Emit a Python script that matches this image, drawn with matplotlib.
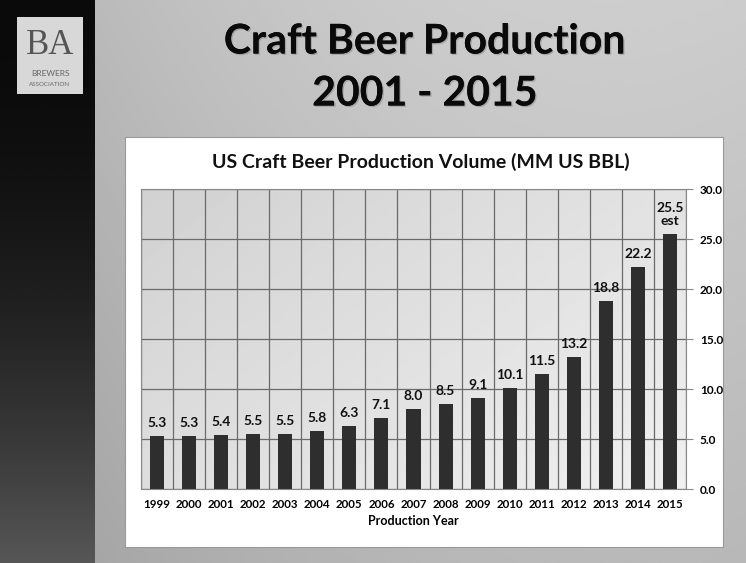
import matplotlib
matplotlib.use("Agg")
import matplotlib.pyplot as plt
import matplotlib.patches as patches
import matplotlib.patheffects as pe
import numpy as np

plt.rcParams['font.family'] = ['Lato', 'DejaVu Sans']

# data
years = ["1999", "2000", "2001", "2002", "2003", "2004", "2005", "2006", "2007",
         "2008", "2009", "2010", "2011", "2012", "2013", "2014", "2015"]
volume = [5.3, 5.3, 5.4, 5.5, 5.5, 5.8, 6.3, 7.1, 8.0, 8.5, 9.1, 10.1, 11.5,
          13.2, 18.8, 22.2, 25.5]
labels = ["5.3", "5.3", "5.4", "5.5", "5.5", "5.8", "6.3", "7.1", "8.0", "8.5",
          "9.1", "10.1", "11.5", "13.2", "18.8", "22.2", "25.5\nest"]
yticks = [0, 5, 10, 15, 20, 25, 30]

W, H = 746, 563
fig = plt.figure(figsize=(W / 100, H / 100), dpi=100)

# slide background
bg = fig.add_axes([0, 0, 1, 1], zorder=0)
bg.set_xlim(0, W)
bg.set_ylim(H, 0)
bg.axis("off")
xx, yy = np.meshgrid(np.linspace(0, 1, 200), np.linspace(0, 1, 200))
grad = 0.68 + 0.08 * (1 - yy) + 0.07 * xx - 0.12 * (xx - 0.5) ** 2
bg.imshow(grad, cmap="gray", vmin=0, vmax=1, extent=[95, W, H, 0], aspect="auto")
strip = 0.04 + 0.3 * yy[:, :20] ** 2
bg.imshow(strip, cmap="gray", vmin=0, vmax=1, extent=[0, 95, H, 0], aspect="auto")

# logo
bg.add_patch(patches.Rectangle((17, 17), 66, 77, facecolor="#d8d8d8", edgecolor="none"))
bg.text(50, 46, "BA", fontsize=25, family="Liberation Serif", color="#555555",
        ha="center", va="center")
bg.text(50, 74, "BREWERS", fontsize=6, color="#666666", ha="center", va="center")
bg.text(50, 84, "ASSOCIATION", fontsize=4.5, color="#666666", ha="center", va="center")

# slide title, soft shadow
shadow = [pe.withSimplePatchShadow(offset=(1, -1), shadow_rgbFace="#666666", alpha=0.35),
          pe.Normal()]
bg.text(425, 42, "Craft Beer Production", fontsize=29.5, fontweight="bold",
        color="#0a0a0a", ha="center", va="center", path_effects=shadow)
bg.text(425, 94, "2001 - 2015", fontsize=29.5, fontweight="bold",
        color="#0a0a0a", ha="center", va="center", path_effects=shadow)

# white chart box
bg.add_patch(patches.Rectangle((125, 137), 598, 410, facecolor="white",
                               edgecolor="#999999", linewidth=0.8))
bg.text(421, 162, "US Craft Beer Production Volume (MM US BBL)", fontsize=14,
        fontweight="bold", color="#111111", ha="center", va="center")

# plot area
x0, x1, ytop, ybot = 141, 686, 189, 489
ax = fig.add_axes([x0 / W, 1 - ybot / H, (x1 - x0) / W, (ybot - ytop) / H], zorder=1)
x = np.arange(len(years))
ax.set_xlim(-0.5, len(years) - 0.5)
ax.set_ylim(0, 30)

fill = 0.82 + 0.07 * xx + 0.05 * yy
ax.imshow(fill, cmap="gray", vmin=0, vmax=1, extent=[-0.5, len(years) - 0.5, 0, 30],
          aspect="auto", zorder=0)

for b in np.arange(-0.5, len(years) + 0.5, 1):
    ax.axvline(b, color="#6a6a6a", linewidth=0.9, zorder=1)
for t in yticks:
    ax.axhline(t, color="#6a6a6a", linewidth=0.9, zorder=1)

ax.bar(x, volume, width=0.44, color="#2e2e2e", zorder=2)
for xi, v, lab in zip(x, volume, labels):
    ax.text(xi, v + 0.7, lab, fontsize=10, fontweight="bold", color="#111111",
            ha="center", va="bottom", linespacing=1.15)

ax.yaxis.tick_right()
ax.set_yticks(yticks)
ax.set_yticklabels([f"{t:.1f}" for t in yticks], fontsize=8.5, fontweight="bold")
ax.set_xticks(x)
ax.set_xticklabels(years, fontsize=8.3, fontweight="bold")
ax.tick_params(axis="x", length=0, pad=7)
ax.tick_params(axis="y", length=5, color="#888888", pad=5)
ax.set_xlabel("Production Year", fontsize=9, fontweight="bold", labelpad=4)
for s in ax.spines.values():
    s.set_color("#888888")
    s.set_linewidth(0.8)

fig.savefig("out.png", dpi=100)
